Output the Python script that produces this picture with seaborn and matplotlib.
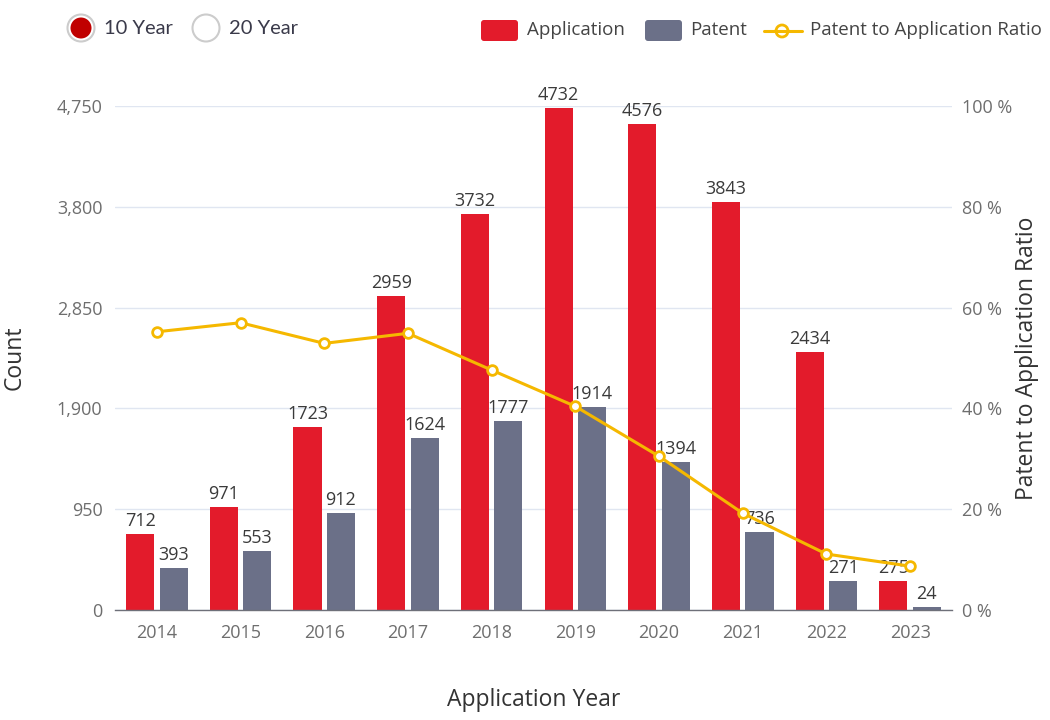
import matplotlib
matplotlib.use("Agg")
import matplotlib.pyplot as plt
from matplotlib.patches import Circle, FancyBboxPatch
from matplotlib.lines import Line2D
import seaborn as sns
import numpy as np
import pandas as pd

years = ["2014", "2015", "2016", "2017", "2018", "2019", "2020", "2021", "2022", "2023"]
applications = [712, 971, 1723, 2959, 3732, 4732, 4576, 3843, 2434, 275]
patents = [393, 553, 912, 1624, 1777, 1914, 1394, 736, 271, 24]
ratio_pct = [55.2, 57.0, 52.9, 54.9, 47.6, 40.4, 30.5, 19.2, 11.1, 8.7]
left_ticks = [0, 950, 1900, 2850, 3800, 4750]
right_ticks = [0, 20, 40, 60, 80, 100]

RED = "#e31b2b"
GREY = "#6b7088"
YELLOW = "#f5b800"
TICK_C = "#6e6e6e"
TEXT_C = "#333333"

sns.set_theme(style="white")
plt.rcParams["font.family"] = ["Open Sans", "DejaVu Sans"]

df = pd.DataFrame({
    "Year": years * 2,
    "Count": applications + patents,
    "Series": ["Application"] * len(years) + ["Patent"] * len(years),
})

fig = plt.figure(figsize=(10.5, 7.2), dpi=100)
ax = fig.add_axes([115 / 1050, 1 - 610 / 720, 837 / 1050, 504 / 720])

sns.barplot(data=df, x="Year", y="Count", hue="Series", order=years,
            hue_order=["Application", "Patent"], palette=[RED, GREY],
            width=0.8, gap=0.16, ax=ax, legend=False, saturation=1,
            linewidth=0)

for cont in ax.containers:
    ax.bar_label(cont, padding=3, fontsize=13, color="#3a3a3a")

ax.set_ylim(0, 4750)
ax.set_xlim(-0.5, len(years) - 0.5)
ax.set_yticks(left_ticks)
ax.set_yticklabels([f"{v:,}" for v in left_ticks])
ax.grid(axis="y", color="#e0e6f1", linewidth=1)
ax.set_axisbelow(True)
for s in ["top", "right", "left"]:
    ax.spines[s].set_visible(False)
ax.spines["bottom"].set_color("#6e7079")
ax.spines["bottom"].set_linewidth(1)
ax.tick_params(axis="y", length=0, pad=9, labelsize=13, labelcolor=TICK_C)
ax.tick_params(axis="x", which="major", length=0, pad=10, labelsize=13, labelcolor=TICK_C)
ax.set_xticks(np.arange(-0.5, len(years) + 0.5, 1), minor=True)
ax.tick_params(axis="x", which="minor", length=5, color="#6e7079", width=1)
ax.set_xlabel("Application Year", fontsize=16.5, color=TEXT_C)
ax.xaxis.set_label_coords(0.5, -0.155)
ax.set_ylabel("Count", fontsize=16.5, color=TEXT_C)
ax.yaxis.set_label_coords(-0.105, 0.5)

ax2 = ax.twinx()
sns.lineplot(x=np.arange(len(years)), y=ratio_pct, ax=ax2, color=YELLOW,
             linewidth=2.2, marker="o", markersize=7, markerfacecolor="white",
             markeredgecolor=YELLOW, markeredgewidth=2)
ax2.set_ylim(0, 100)
ax2.set_yticks(right_ticks)
ax2.set_yticklabels([f"{v} %" for v in right_ticks])
ax2.tick_params(axis="y", length=0, pad=7, labelsize=13, labelcolor=TICK_C)
for s in ["top", "right", "left", "bottom"]:
    ax2.spines[s].set_visible(False)
ax2.set_ylabel("Patent to Application Ratio", fontsize=16.5, color=TEXT_C)
ax2.yaxis.set_label_coords(1.075, 0.5)
ax2.grid(False)

# overlay for radio buttons and legend (pixel coordinates)
ov = fig.add_axes([0, 0, 1, 1], facecolor="none")
ov.set_xlim(0, 1050)
ov.set_ylim(720, 0)
ov.axis("off")

ov.add_patch(Circle((81, 28), 13.5, facecolor="white", edgecolor="#cccccc", linewidth=1.5))
ov.add_patch(Circle((81, 28), 10.5, facecolor="#c00000", edgecolor="none"))
ov.text(104, 28, "10 Year", fontsize=14.5, color="#3a3a4a", va="center", ha="left", family=["Lato", "DejaVu Sans"])
ov.add_patch(Circle((206, 28), 13.5, facecolor="white", edgecolor="#cccccc", linewidth=1.5))
ov.text(229, 28, "20 Year", fontsize=14.5, color="#3a3a4a", va="center", ha="left", family=["Lato", "DejaVu Sans"])

ov.add_patch(FancyBboxPatch((481, 20), 37, 21, boxstyle="round,pad=0,rounding_size=3",
                            facecolor=RED, edgecolor="none"))
ov.text(527, 30, "Application", fontsize=13.5, color="#444444", va="center", ha="left")
ov.add_patch(FancyBboxPatch((645, 20), 37, 21, boxstyle="round,pad=0,rounding_size=3",
                            facecolor=GREY, edgecolor="none"))
ov.text(690, 30, "Patent", fontsize=13.5, color="#444444", va="center", ha="left")
ov.add_line(Line2D([764, 802], [31, 31], color=YELLOW, linewidth=2.2))
ov.add_patch(Circle((782, 31), 6, facecolor="white", edgecolor=YELLOW, linewidth=2))
ov.text(810, 30, "Patent to Application Ratio", fontsize=13.5, color="#444444", va="center", ha="left")

fig.savefig("out.png", dpi=100)
